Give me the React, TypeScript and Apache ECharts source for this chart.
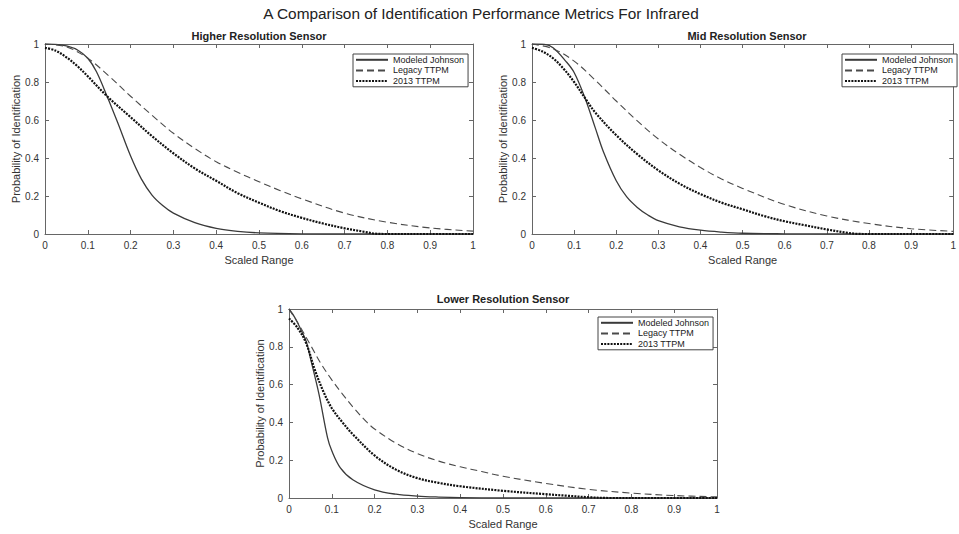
import React, { useEffect, useRef } from 'react';
import * as echarts from 'echarts';

const mainTitle = 'A Comparison of Identification Performance Metrics For Infrared';
const panelTitles = ['Higher Resolution Sensor', 'Mid Resolution Sensor', 'Lower Resolution Sensor'];
const seriesNames = ['Modeled Johnson', 'Legacy TTPM', '2013 TTPM'];
const xAxisName = 'Scaled Range';
const yAxisName = 'Probability of Identification';

// Higher resolution sensor
const higherJohnson = [
  [0, 1], [0.025, 0.998], [0.05, 0.99], [0.075, 0.97], [0.1, 0.925], [0.12, 0.855], [0.145, 0.725],
  [0.17, 0.585], [0.2, 0.41], [0.225, 0.29], [0.25, 0.205], [0.275, 0.15], [0.3, 0.11], [0.35, 0.06],
  [0.4, 0.03], [0.45, 0.014], [0.5, 0.006], [0.6, 0.001], [0.7, 0], [0.8, 0], [0.9, 0], [1, 0],
];
const higherLegacy = [
  [0, 1], [0.05, 0.985], [0.1, 0.925], [0.15, 0.83], [0.2, 0.725], [0.25, 0.625], [0.3, 0.53], [0.35, 0.45],
  [0.4, 0.38], [0.45, 0.325], [0.5, 0.275], [0.55, 0.228], [0.6, 0.185], [0.7, 0.11], [0.8, 0.062],
  [0.9, 0.032], [1, 0.015],
];
const higherTtpm2013 = [
  [0, 0.98], [0.025, 0.965], [0.05, 0.93], [0.075, 0.885], [0.1, 0.83], [0.145, 0.725], [0.2, 0.615],
  [0.25, 0.515], [0.3, 0.425], [0.35, 0.345], [0.4, 0.28], [0.45, 0.215], [0.5, 0.165], [0.55, 0.12],
  [0.6, 0.085], [0.65, 0.055], [0.7, 0.03], [0.75, 0.01], [0.77, 0.002], [0.8, 0], [0.9, 0], [1, 0],
];

// Mid resolution sensor
const midJohnson = [
  [0, 1], [0.03, 0.998], [0.05, 0.98], [0.08, 0.91], [0.1, 0.85], [0.126, 0.715], [0.15, 0.56],
  [0.17, 0.43], [0.2, 0.28], [0.225, 0.195], [0.25, 0.14], [0.275, 0.1], [0.3, 0.07], [0.35, 0.038],
  [0.4, 0.02], [0.45, 0.01], [0.5, 0.004], [0.6, 0.001], [0.7, 0], [0.8, 0], [0.9, 0], [1, 0],
];
const midLegacy = [
  [0, 1], [0.05, 0.975], [0.1, 0.91], [0.15, 0.81], [0.2, 0.7], [0.25, 0.595], [0.3, 0.5], [0.35, 0.42],
  [0.4, 0.35], [0.45, 0.29], [0.5, 0.24], [0.6, 0.155], [0.7, 0.095], [0.8, 0.055], [0.9, 0.028], [1, 0.014],
];
const midTtpm2013 = [
  [0, 0.98], [0.025, 0.96], [0.05, 0.925], [0.075, 0.87], [0.1, 0.8], [0.126, 0.715], [0.15, 0.64],
  [0.2, 0.52], [0.25, 0.42], [0.3, 0.335], [0.35, 0.265], [0.4, 0.21], [0.45, 0.165], [0.5, 0.13],
  [0.55, 0.095], [0.6, 0.067], [0.65, 0.045], [0.7, 0.024], [0.75, 0.006], [0.77, 0.001], [0.8, 0],
  [0.9, 0], [1, 0],
];

// Lower resolution sensor
const lowerJohnson = [
  [0, 1], [0.015, 0.95], [0.03, 0.88], [0.04, 0.83], [0.05, 0.74], [0.07, 0.55], [0.09, 0.32],
  [0.1, 0.25], [0.12, 0.16], [0.15, 0.095], [0.2, 0.043], [0.25, 0.02], [0.3, 0.01], [0.35, 0.005],
  [0.4, 0.002], [0.5, 0], [0.6, 0], [0.8, 0], [1, 0],
];
const lowerLegacy = [
  [0, 1], [0.025, 0.91], [0.05, 0.81], [0.075, 0.71], [0.1, 0.625], [0.125, 0.55], [0.15, 0.48],
  [0.18, 0.405], [0.2, 0.365], [0.25, 0.29], [0.3, 0.235], [0.35, 0.195], [0.4, 0.165], [0.45, 0.14],
  [0.5, 0.115], [0.6, 0.077], [0.7, 0.046], [0.8, 0.026], [0.9, 0.013], [1, 0.006],
];
const lowerTtpm2013 = [
  [0, 0.95], [0.02, 0.9], [0.04, 0.82], [0.06, 0.68], [0.08, 0.565], [0.1, 0.475], [0.125, 0.4],
  [0.15, 0.335], [0.2, 0.225], [0.25, 0.15], [0.3, 0.105], [0.35, 0.08], [0.4, 0.062], [0.5, 0.038],
  [0.6, 0.02], [0.65, 0.012], [0.7, 0.004], [0.75, 0], [0.85, 0], [1, 0],
];

const panelData = [
  [higherJohnson, higherLegacy, higherTtpm2013],
  [midJohnson, midLegacy, midTtpm2013],
  [lowerJohnson, lowerLegacy, lowerTtpm2013],
];

const FONT = 'Liberation Sans, Arial, Helvetica, sans-serif';

export default function App() {
  const ref = useRef<HTMLDivElement>(null);

  useEffect(() => {
    document.body.style.margin = '0';
    if (!ref.current) return;
    const chart = echarts.init(ref.current, undefined, { renderer: 'svg' });

    const grids = [
      { left: 45, top: 44, width: 428, height: 190 },
      { left: 532, top: 44, width: 430, height: 190 },
      { left: 289, top: 309, width: 428, height: 189 },
    ];
    const yNameGaps = [21, 21, 24];
    const legendPos = [
      { left: 353, top: 54 },
      { left: 842, top: 54 },
      { left: 598, top: 317 },
    ];
    const titlePos = [
      { x: 259, y: 36 },
      { x: 747, y: 36 },
      { x: 503, y: 299 },
    ];

    const axisColor = '#666';
    const labelColor = '#333';
    const lineStyles = [
      { color: '#3a3a3a', width: 1.3, type: 'solid' },
      { color: '#4a4a4a', width: 1.1, type: [7, 4] },
      { color: '#111', width: 2.2, type: [2, 1.2] },
    ];

    const xAxes: any[] = [];
    const yAxes: any[] = [];
    const series: any[] = [];
    const legends: any[] = [];

    grids.forEach((_, i) => {
      const common = {
        gridIndex: i,
        type: 'value',
        min: 0,
        max: 1,
        splitLine: { show: false },
        axisLine: { show: true, onZero: false, lineStyle: { color: axisColor, width: 1 } },
        axisTick: { show: true, inside: true, length: 4, lineStyle: { color: axisColor } },
      };
      xAxes.push({
        ...common,
        interval: 0.1,
        position: 'bottom',
        name: xAxisName,
        nameLocation: 'middle',
        nameGap: 20,
        nameTextStyle: { fontSize: 11, color: labelColor, fontFamily: FONT },
        axisLabel: { fontSize: 10, color: labelColor, margin: 6, fontFamily: FONT },
      });
      xAxes.push({ ...common, interval: 0.1, position: 'top', axisLabel: { show: false } });
      yAxes.push({
        ...common,
        interval: 0.2,
        position: 'left',
        name: yAxisName,
        nameLocation: 'middle',
        nameGap: yNameGaps[i],
        nameRotate: 90,
        nameTextStyle: { fontSize: 11, color: labelColor, fontFamily: FONT },
        axisLabel: { fontSize: 10, color: labelColor, margin: 6, fontFamily: FONT },
      });
      yAxes.push({ ...common, interval: 0.2, position: 'right', axisLabel: { show: false } });

      panelData[i].forEach((data, k) => {
        series.push({
          type: 'line',
          name: seriesNames[k],
          xAxisIndex: 2 * i,
          yAxisIndex: 2 * i,
          data,
          symbol: 'none',
          showSymbol: false,
          smooth: 0.35,
          clip: true,
          lineStyle: lineStyles[k],
          itemStyle: { color: lineStyles[k].color },
          emphasis: { disabled: true },
          z: 2 + k,
        });
      });

      legends.push({
        data: seriesNames,
        orient: 'vertical',
        left: legendPos[i].left,
        top: legendPos[i].top,
        itemWidth: 32,
        itemHeight: 12,
        itemGap: 1,
        padding: [1, 4, 1, 2],
        borderColor: '#444',
        borderWidth: 1,
        backgroundColor: '#fff',
        selectedMode: false,
        itemStyle: { opacity: 0 },
        textStyle: { fontSize: 9, color: '#222', fontFamily: FONT },
      });
    });

    const graphics: any[] = [
      {
        type: 'text',
        x: 481,
        y: 13,
        style: { text: mainTitle, fontSize: 15.4, fill: '#222', fontFamily: FONT, align: 'center', verticalAlign: 'middle' },
      },
      ...panelTitles.map((t, i) => ({
        type: 'text',
        x: titlePos[i].x,
        y: titlePos[i].y,
        style: { text: t, fontSize: 11, fontWeight: 'bold', fill: '#222', fontFamily: FONT, align: 'center', verticalAlign: 'middle' },
      })),
    ];

    chart.setOption({
      animation: false,
      backgroundColor: '#fff',
      textStyle: { fontFamily: FONT },
      grid: grids,
      xAxis: xAxes,
      yAxis: yAxes,
      legend: legends,
      series,
      graphic: graphics,
    });

    return () => chart.dispose();
  }, []);

  return <div ref={ref} style={{ width: 959, height: 534 }} />;
}
